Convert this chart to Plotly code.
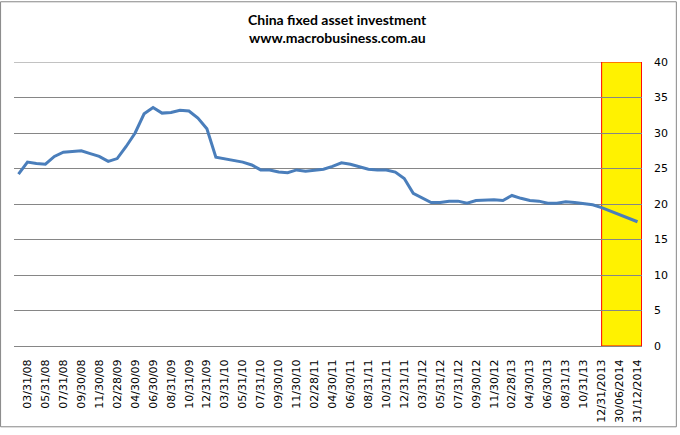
import plotly.graph_objects as go

categories = [
    "02/29/08", "03/31/08", "04/30/08", "05/31/08", "06/30/08", "07/31/08", "08/31/08", "09/30/08", "10/31/08", "11/30/08", "12/31/08",
    "02/28/09", "03/31/09", "04/30/09", "05/31/09", "06/30/09", "07/31/09", "08/31/09", "09/30/09", "10/31/09", "11/30/09", "12/31/09",
    "02/28/10", "03/31/10", "04/30/10", "05/31/10", "06/30/10", "07/31/10", "08/31/10", "09/30/10", "10/31/10", "11/30/10", "12/31/10",
    "02/28/11", "03/31/11", "04/30/11", "05/31/11", "06/30/11", "07/31/11", "08/31/11", "09/30/11", "10/31/11", "11/30/11", "12/31/11",
    "02/29/12", "03/31/12", "04/30/12", "05/31/12", "06/30/12", "07/31/12", "08/31/12", "09/30/12", "10/31/12", "11/30/12", "12/31/12",
    "02/28/13", "03/31/13", "04/30/13", "05/31/13", "06/30/13", "07/31/13", "08/31/13", "09/30/13", "10/31/13", "11/30/13", "12/31/2013",
    "31/03/2014", "30/06/2014", "30/09/2014", "31/12/2014",
]

fai_growth = [
    24.2, 25.9, 25.7, 25.6, 26.7, 27.3, 27.4, 27.5, 27.1, 26.7, 26.0,
    26.4, 28.1, 30.0, 32.7, 33.6, 32.8, 32.9, 33.2, 33.1, 32.1, 30.6,
    26.6, 26.4, 26.1, 25.9, 25.5, 24.8, 24.8, 24.5, 24.4, 24.8, 24.6,
    24.7, 24.9, 25.3, 25.8, 25.6, 25.3, 24.9, 24.8, 24.8, 24.5, 23.6,
    21.5, 20.8, 20.2, 20.2, 20.4, 20.4, 20.1, 20.5, 20.6, 20.6, 20.5,
    21.2, 20.8, 20.5, 20.4, 20.1, 20.1, 20.3, 20.2, 20.1, 19.9, 19.5,
    19.0, 18.5, 18.0, 17.5,
]

tick_labels = categories[1::2]
y_ticks = [0, 5, 10, 15, 20, 25, 30, 35, 40]
y_max = 40
highlight_start = "12/31/2013"
highlight_end = "31/12/2014"

W, H = 680, 435
L, R, T, B = 14, 35, 62, 83
pw, ph = W - L - R, H - T - B

fig = go.Figure()
fig.add_trace(go.Scatter(
    x=categories, y=fai_growth, mode="lines",
    line=dict(color="#4A7EBB", width=3),
    showlegend=False, hoverinfo="x+y",
))

# top gridline (range edge)
fig.add_shape(type="line", xref="paper", yref="y", x0=0, x1=1, y0=y_max, y1=y_max,
              line=dict(color="#868686", width=1), layer="below")

i0 = categories.index(highlight_start)
i1 = categories.index(highlight_end)
fig.add_shape(type="rect", xref="x", yref="y",
              x0=i0, x1=i1 + 0.45, y0=0, y1=y_max,
              fillcolor="#FFF200", line=dict(color="#FF0000", width=1),
              layer="below")

# chart area border
fig.add_shape(type="rect", xref="paper", yref="paper",
              x0=(0.5 - L) / pw, x1=(W - 0.5 - L) / pw,
              y0=-(B - 0.5) / ph, y1=(ph + T - 0.5) / ph,
              line=dict(color="#868686", width=1), fillcolor="rgba(0,0,0,0)")

fig.add_annotation(text="<b>China fixed asset investment</b>", xref="paper", yref="paper",
                   x=(339 - L) / pw, y=(ph + T - 19) / ph, xanchor="center", yanchor="middle",
                   showarrow=False, font=dict(family="Lato", size=14, color="#000000"))
fig.add_annotation(text="<b>www.macrobusiness.com.au</b>", xref="paper", yref="paper",
                   x=(339 - L) / pw, y=(ph + T - 37) / ph, xanchor="center", yanchor="middle",
                   showarrow=False, font=dict(family="Lato", size=14, color="#000000"))

fig.update_layout(
    width=W, height=H,
    margin=dict(l=L, r=R, t=T, b=B, pad=0),
    paper_bgcolor="white", plot_bgcolor="white",
    font=dict(family="DejaVu Sans", size=11, color="#000000"),
    xaxis=dict(
        type="category", categoryorder="array", categoryarray=categories,
        range=[-0.5, len(categories) - 0.5],
        tickmode="array", tickvals=tick_labels, ticktext=tick_labels,
        tickangle=-90, showgrid=False, showline=True, linecolor="#868686", linewidth=1,
        ticks="", ticklabelstandoff=8, zeroline=False, fixedrange=True,
    ),
    yaxis=dict(
        side="right", range=[0, y_max], tickvals=y_ticks,
        showgrid=True, gridcolor="#868686", gridwidth=1,
        showline=False, zeroline=False, ticks="", ticklabelstandoff=11, fixedrange=True,
    ),
)

fig.write_html("out.html", config={"displayModeBar": False},
               post_script="document.body.style.margin='0px';")
